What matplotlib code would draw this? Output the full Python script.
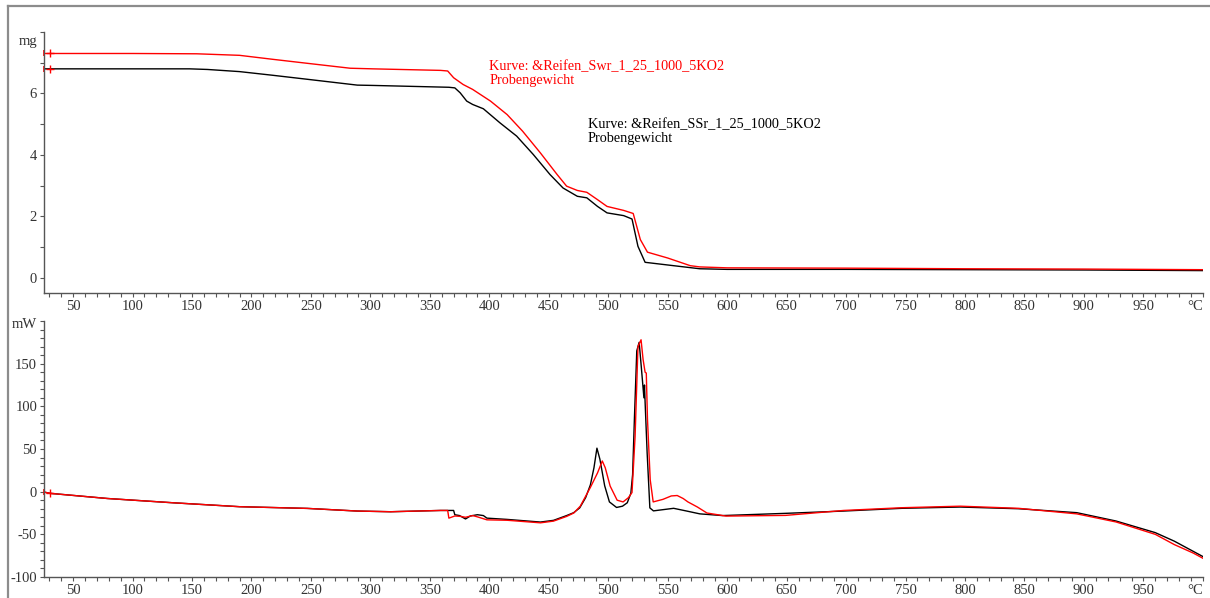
import matplotlib
matplotlib.use('Agg')
import matplotlib.pyplot as plt
from matplotlib.lines import Line2D
from matplotlib.ticker import MultipleLocator

plt.rcParams['font.family'] = ['Liberation Serif', 'DejaVu Serif']

# TG-Kurven: Probengewicht in mg
tg_black_T = [25.6, 100, 148, 163, 190, 218, 247, 289, 302, 366, 371, 375.5, 381, 386, 395, 409, 423,
              437, 451, 462, 474, 482, 491, 499, 513, 520, 525, 531, 555, 577, 600, 700, 800, 900, 1000]
tg_black_m = [6.80, 6.80, 6.80, 6.78, 6.71, 6.59, 6.46, 6.27, 6.26, 6.20, 6.18, 6.02, 5.75, 5.64, 5.50, 5.04, 4.61,
              4.01, 3.36, 2.92, 2.65, 2.60, 2.32, 2.11, 2.02, 1.91, 1.02, 0.50, 0.39, 0.29, 0.27, 0.27, 0.26, 0.25, 0.23]
tg_red_T = [25.6, 100, 154, 190, 218, 247, 283, 302, 359, 365, 370, 378, 386, 401, 415, 428, 443,
            457, 465, 474, 482, 491, 499, 513, 521, 527, 533, 550, 569, 577, 600, 700, 800, 900, 1000]
tg_red_m = [7.30, 7.30, 7.29, 7.24, 7.11, 6.98, 6.82, 6.80, 6.75, 6.73, 6.51, 6.29, 6.13, 5.75, 5.31, 4.77, 4.06,
            3.36, 2.98, 2.84, 2.78, 2.54, 2.32, 2.19, 2.09, 1.24, 0.83, 0.64, 0.39, 0.35, 0.32, 0.31, 0.29, 0.28, 0.26]

# DSC-Kurven in mW
dsc_black_T = [25.6, 31, 79, 134, 190, 247, 289, 317, 359, 370, 371, 375, 380, 384, 390, 395, 398, 415, 443,
               454, 465, 471, 476, 481, 485, 488, 490.5, 493, 497, 501, 507, 512, 516, 519, 520.5, 522, 524,
               526, 528, 530, 530.5, 531, 532.7, 535, 538, 555, 566, 577, 596, 649, 698, 747, 796, 845, 894,
               927, 960, 976, 992, 1000]
dsc_black_P = [-0.5, -2, -8, -13, -17.6, -19.6, -22.7, -23.5, -22, -22, -27, -28, -32, -28.5, -27, -28, -31, -32.5, -35.6,
               -33.6, -28, -24.6, -19, -7, 8, 28, 51, 38, 7, -12, -18.5, -17, -13, -2, 20, 85, 165,
               175, 143, 110, 125, 105, 46, -19, -22.5, -19.5, -22.7, -26, -28, -25.4, -22.7, -19.5, -18, -20, -24.6,
               -34.4, -48, -58, -70, -76]
dsc_red_T = [25.6, 31, 79, 134, 190, 247, 289, 317, 359, 365, 366, 371, 376, 380, 386, 390, 398, 415, 443,
             454, 465, 471, 476.5, 485, 491, 495, 497.5, 501.6, 507.5, 512.5, 517, 520, 522.6, 525, 527.6, 529.3,
             531, 532, 533, 535.3, 537.8, 546, 553, 558, 563, 567, 575, 583, 599, 649, 698, 747, 796, 845, 894,
             927, 960, 976, 992, 1000]
dsc_red_P = [-0.5, -2, -8, -13, -17.6, -19.6, -22.7, -23.5, -22, -22, -31, -28.5, -29, -30, -28, -29.5, -33, -33.5, -36.5,
             -34.5, -29, -25, -17, 5, 22, 36, 28, 6.6, -10, -12, -7, -1, 65, 170, 178, 155,
             140, 139, 85, 14, -12, -9, -5, -4.5, -8, -12, -18, -25, -28.6, -27.8, -22, -18.8, -17, -19.5, -26,
             -35.5, -50, -62, -72, -78]

x_ticks = list(range(50, 1001, 50))
x_labels = [str(t) for t in range(50, 951, 50)] + ['°C']
tg_ticks = [0, 2, 4, 6, 8]
tg_labels = ['0', '2', '4', '6', '']
dsc_ticks = [-100, -50, 0, 50, 100, 150, 200]
dsc_labels = ['-100', '-50', '0', '50', '100', '150', '']

label_black = 'Kurve: &Reifen_SSr_1_25_1000_5KO2\nProbengewicht'
label_red = 'Kurve: &Reifen_Swr_1_25_1000_5KO2\nProbengewicht'


def style_axis(ax, yticks, ylabels, yminor, ylim):
    ax.set_xlim(25.6, 1000)
    ax.set_ylim(*ylim)
    ax.set_xticks(x_ticks)
    ax.set_xticklabels(x_labels)
    ax.get_xticklabels()[-1].set_horizontalalignment('right')
    ax.xaxis.set_minor_locator(MultipleLocator(10))
    ax.set_yticks(yticks)
    ax.set_yticklabels(ylabels)
    ax.yaxis.set_minor_locator(MultipleLocator(yminor))
    for s in ['top', 'right']:
        ax.spines[s].set_visible(False)
    for s in ['left', 'bottom']:
        ax.spines[s].set_color('#555555')
        ax.spines[s].set_linewidth(1.0)
    ax.tick_params(which='both', direction='out', length=3, width=0.8, color='#555555',
                   labelcolor='#333333', labelsize=10.5, pad=2)
    ax.patch.set_alpha(0)


fig = plt.figure(figsize=(12.1, 5.98), dpi=100)
ax1 = fig.add_axes([0.0364, 0.510, 0.9577, 0.4365])
ax2 = fig.add_axes([0.0364, 0.0351, 0.9577, 0.4281])

# oben: TG
ax1.plot(tg_black_T, tg_black_m, color='black', lw=1.0)
ax1.plot(tg_red_T, tg_red_m, color='red', lw=1.0)
for m in [tg_black_m[0], tg_red_m[0]]:
    ax1.plot([31], [m], marker='+', color='red', ms=6, mew=1)
    ax1.plot([25.6], [m], marker='|', color='red', ms=5, mew=1.2, clip_on=False)
style_axis(ax1, tg_ticks, tg_labels, 1, (-0.5, 8))
ax1.text(-0.006, 7.7, 'mg', transform=ax1.get_yaxis_transform(), ha='right', va='center',
         fontsize=10.5, color='#333333')
ax1.text(400, 7.1, label_red, color='red', fontsize=10.3, va='top', linespacing=1.1)
ax1.text(483, 5.2, label_black, color='black', fontsize=10.3, va='top', linespacing=1.1)

# unten: DSC
ax2.plot(dsc_black_T, dsc_black_P, color='black', lw=1.0)
ax2.plot(dsc_red_T, dsc_red_P, color='red', lw=1.0)
ax2.plot([31], [dsc_red_P[1]], marker='+', color='red', ms=6, mew=1)
ax2.plot([25.6], [dsc_red_P[0]], marker='|', color='red', ms=5, mew=1.2, clip_on=False)
style_axis(ax2, dsc_ticks, dsc_labels, 10, (-100, 200))
ax2.text(-0.006, 196, 'mW', transform=ax2.get_yaxis_transform(), ha='right', va='center',
         fontsize=10.5, color='#333333')

# Rahmen
fig.add_artist(Line2D([0.0062, 0.0062], [0, 0.99], transform=fig.transFigure, color='#8c8c8c', lw=1.6))
fig.add_artist(Line2D([0.0062, 1.0], [0.99, 0.99], transform=fig.transFigure, color='#8c8c8c', lw=1.6))

fig.savefig('out.png', dpi=100)
